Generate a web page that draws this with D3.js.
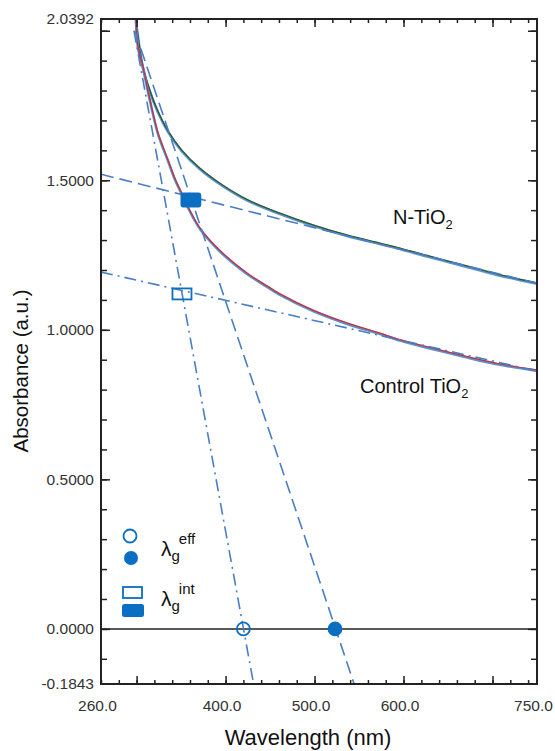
<!DOCTYPE html>
<html>
<head>
<meta charset="utf-8">
<script src="https://cdn.jsdelivr.net/npm/d3@7/dist/d3.min.js"></script>
<style>
  body { margin: 0; background: #fff; }
  text { font-family: "Liberation Sans", Arial, sans-serif; }
</style>
</head>
<body>
<script>
// N-TiO2 spectrum
const nNm  = [299.3, 307.2, 315.0, 322.9, 335.3, 351.0, 371.3, 393.7, 424.1, 461.2, 498.3, 536.5, 573.5, 592.7, 629.7, 666.8, 705.0, 750];
const nAbs = [2.036, 1.879, 1.800, 1.738, 1.665, 1.600, 1.540, 1.490, 1.436, 1.390, 1.351, 1.317, 1.290, 1.276, 1.246, 1.217, 1.187, 1.157];
// Control TiO2 spectrum
const cNm  = [299.3, 301.6, 307.2, 315.1, 324.1, 335.3, 343.2, 351.0, 356.7, 371.3, 393.7, 424.1, 446.6, 461.2, 498.3, 536.5, 573.5, 592.7, 629.7, 666.8, 705.0, 750];
const cAbs = [2.039, 1.946, 1.879, 1.768, 1.658, 1.568, 1.505, 1.455, 1.418, 1.340, 1.265, 1.190, 1.147, 1.120, 1.066, 1.023, 0.989, 0.970, 0.941, 0.914, 0.888, 0.866];

// tangent lines: [start, end]
const tangentNm  = [[298, 544.5], [260, 750], [297, 431.5], [260, 750]];
const tangentAbs = [[2.0, -0.1843], [1.520, 1.155], [2.0, -0.1843], [1.193, 0.862]];
const tangentKind = ["dash", "dash", "dashdot", "dashdot"];

// lambda_g eff (x-intercepts) and int (intersections): [control, N]
const effNm  = [420, 523];
const effAbs = [0, 0];
const intNm  = [351, 361];
const intAbs = [1.120, 1.434];

const xTickLabels = [260, 400, 500, 600, 750];
const yTickLabels = [-0.1843, 0, 0.5, 1, 1.5, 2.0392];

const width = 555, height = 751;
const margin = {top: 19, right: 18, bottom: 67, left: 101};

const x = d3.scaleLinear().domain([260, 750]).range([margin.left, width - margin.right]);
const y = d3.scaleLinear().domain([-0.1843, 2.0392]).range([height - margin.bottom, margin.top]);

const blue = "#0a6fc2";
const lineBlue = "#4a7ec4";

const svg = d3.select("body").append("svg")
    .attr("width", width)
    .attr("height", height);

svg.append("defs").append("clipPath").attr("id", "plot")
  .append("rect")
    .attr("x", margin.left).attr("y", margin.top)
    .attr("width", width - margin.left - margin.right)
    .attr("height", height - margin.top - margin.bottom);

const plot = svg.append("g").attr("clip-path", "url(#plot)");

// zero line
plot.append("line")
    .attr("x1", x(260)).attr("x2", x(750))
    .attr("y1", y(0)).attr("y2", y(0))
    .attr("stroke", "#222").attr("stroke-width", 1.5);

// spectra with fitted overlay
const curve = d3.line().x(d => x(d[0])).y(d => y(d[1])).curve(d3.curveCatmullRom.alpha(0.5));
const nData = nNm.map((v, i) => [v, nAbs[i]]);
const cData = cNm.map((v, i) => [v, cAbs[i]]);

[[nData, "#2c5a2e"], [cData, "#c8303c"]].forEach(([data, col]) => {
  plot.append("path").datum(data)
      .attr("d", curve).attr("fill", "none")
      .attr("stroke", "#5b93cf").attr("stroke-width", 2.6)
      .attr("transform", "translate(0,1)");
  plot.append("path").datum(data)
      .attr("d", curve).attr("fill", "none")
      .attr("stroke", col).attr("stroke-width", 1.3);
});

// tangent lines
const dashes = {dash: "13,6", dashdot: "12,5,2,5"};
tangentNm.forEach((nm, i) => {
  plot.append("line")
      .attr("x1", x(nm[0])).attr("y1", y(tangentAbs[i][0]))
      .attr("x2", x(nm[1])).attr("y2", y(tangentAbs[i][1]))
      .attr("stroke", lineBlue).attr("stroke-width", 1.6)
      .attr("stroke-dasharray", dashes[tangentKind[i]]);
});

// markers
effNm.forEach((nm, i) => {
  plot.append("circle")
      .attr("cx", x(nm)).attr("cy", y(effAbs[i])).attr("r", 6.5)
      .attr("fill", i ? blue : "#fff").attr("fill-opacity", i ? 1 : 0)
      .attr("stroke", blue).attr("stroke-width", 1.8);
});
intNm.forEach((nm, i) => {
  const w = 19, h = i ? 13 : 11;
  plot.append("rect")
      .attr("x", x(nm) - w / 2).attr("y", y(intAbs[i]) - h / 2)
      .attr("width", w).attr("height", h).attr("rx", i ? 2 : 0)
      .attr("fill", i ? blue : "none")
      .attr("stroke", blue).attr("stroke-width", 1.8);
});

// axes: ticks inward on all sides
const gx = d3.range(260, 751, 20);
const gy = d3.range(-0.1, 2.01, 0.1).map(v => +v.toFixed(1));
const majX = [300, 400, 500, 600, 700];
const majY = [0, 0.5, 1, 1.5, 2];

function ticks(axisFn, pos, vals, size) {
  const g = svg.append("g").attr("transform", pos)
      .call(axisFn.tickValues(vals).tickSize(size).tickFormat(""));
  g.select(".domain").remove();
  g.selectAll(".tick line").attr("stroke", "#222").attr("stroke-width", 1.5);
}
const bottomT = `translate(0,${y.range()[0]})`, topT = `translate(0,${margin.top})`;
const leftT = `translate(${margin.left},0)`, rightT = `translate(${width - margin.right},0)`;
ticks(d3.axisBottom(x), bottomT, gx, -4);
ticks(d3.axisBottom(x), bottomT, majX, -8);
ticks(d3.axisTop(x), topT, gx, -4);
ticks(d3.axisTop(x), topT, majX, -8);
ticks(d3.axisLeft(y), leftT, gy, -6);
ticks(d3.axisLeft(y), leftT, majY, -9);
ticks(d3.axisRight(y), rightT, gy, -6);
ticks(d3.axisRight(y), rightT, majY, -9);

// frame
svg.append("rect")
    .attr("x", margin.left).attr("y", margin.top)
    .attr("width", width - margin.left - margin.right)
    .attr("height", height - margin.top - margin.bottom)
    .attr("fill", "none").attr("stroke", "#222").attr("stroke-width", 2);

// tick labels (plain hyphen for negatives, as in the original)
const fmtY = v => d3.format(".4f")(v).replace("\u2212", "-");

const xl = svg.append("g").attr("transform", bottomT)
    .call(d3.axisBottom(x).tickValues(xTickLabels).tickSize(0).tickPadding(16).tickFormat(d3.format(".1f")));
xl.select(".domain").remove();
xl.selectAll("text").attr("font-size", 15.5).attr("fill", "#333").attr("dx", -4)
    .style("font-family", "Liberation Sans, Arial, sans-serif");

const yl = svg.append("g").attr("transform", leftT)
    .call(d3.axisLeft(y).tickValues(yTickLabels).tickSize(0).tickPadding(7).tickFormat(fmtY));
yl.select(".domain").remove();
yl.selectAll("text").attr("font-size", 15.5).attr("fill", "#333")
    .style("font-family", "Liberation Sans, Arial, sans-serif");

// axis titles
svg.append("text")
    .attr("x", 308).attr("y", 745)
    .attr("text-anchor", "middle").attr("font-size", 22).attr("fill", "#111")
    .text("Wavelength (nm)");
svg.append("text")
    .attr("transform", "translate(28,371) rotate(-90)")
    .attr("text-anchor", "middle").attr("font-size", 20.5).attr("fill", "#111")
    .text("Absorbance (a.u.)");

// sample labels
function label(xp, yp, main) {
  const t = svg.append("text").attr("x", xp).attr("y", yp).attr("font-size", 20).attr("fill", "#111");
  t.append("tspan").text(main);
  t.append("tspan").attr("font-size", 13).attr("dy", 5).text("2");
}
label(393, 224, "N-TiO");
label(360, 393, "Control TiO");

// legend
const lg = svg.append("g");
lg.append("circle").attr("cx", 130).attr("cy", 536).attr("r", 6.5)
    .attr("fill", "none").attr("stroke", blue).attr("stroke-width", 1.8);
lg.append("circle").attr("cx", 131).attr("cy", 558).attr("r", 7).attr("fill", blue);
lg.append("rect").attr("x", 123).attr("y", 587).attr("width", 19).attr("height", 11)
    .attr("fill", "none").attr("stroke", blue).attr("stroke-width", 1.8);
lg.append("rect").attr("x", 122).attr("y", 604).attr("width", 22).attr("height", 13).attr("rx", 2.5)
    .attr("fill", blue);

function lambda(xp, yp, sup) {
  const t = lg.append("text").attr("x", xp).attr("y", yp).attr("font-size", 21).attr("fill", "#111");
  t.append("tspan").text("λ");
  t.append("tspan").attr("font-size", 15).attr("dy", 5).text("g");
  t.append("tspan").attr("font-size", 15).attr("dy", -17).attr("dx", -1).text(sup);
}
lambda(161, 556, "eff");
lambda(161, 606, "int");
</script>
</body>
</html>
